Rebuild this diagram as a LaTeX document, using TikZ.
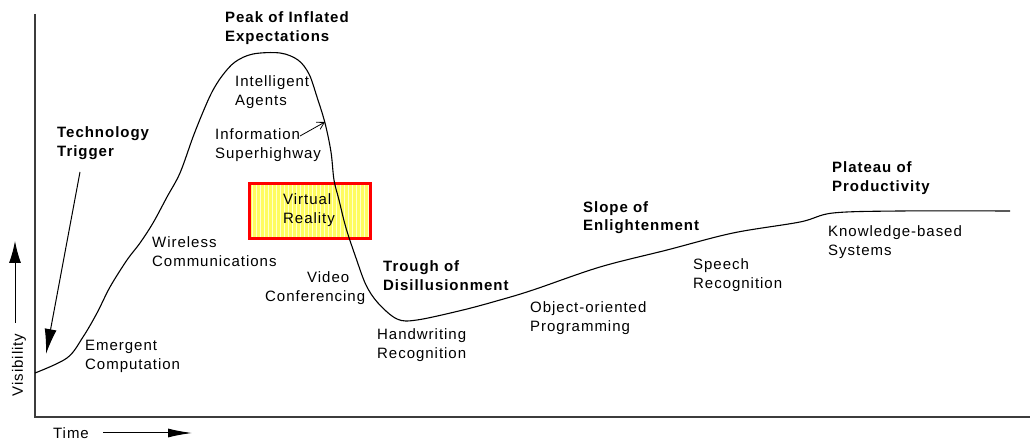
\documentclass[tikz,border=0pt]{standalone}
\usepackage{fontspec}
\setmainfont{Liberation Sans}[LetterSpace=6.5]
\usetikzlibrary{arrows.meta}
\definecolor{boxyellow}{RGB}{255,252,95}
\definecolor{gridyellow}{RGB}{255,255,205}
\definecolor{axisgray}{RGB}{60,60,60}
\tikzset{
  lbl/.style={font=\fontsize{15}{18.5}\selectfont, align=left, inner sep=0pt, anchor=base west, text=black},
  blbl/.style={lbl, font=\fontsize{15}{18.5}\selectfont\bfseries},
  axisline/.style={draw=axisgray, line width=2.2pt},
  hype/.style={draw=black, line width=1.1pt},
  bigarrow/.style={draw=black, line width=1pt, -{Latex[length=25pt,width=12pt]}},
}
\begin{document}
\begin{tikzpicture}[x=1pt,y=-1pt]
\useasboundingbox (0,0) rectangle (1031,443);
% axes
\coordinate (origin) at (35,417);
\coordinate (ytop) at (35,14);
\coordinate (xend) at (1030,417);
\draw[axisline] (ytop) -- (origin) -- (xend);
% highlighted box
\node (vrbox) [fill=boxyellow, minimum width=121pt, minimum height=55pt, inner sep=0pt] at (310,211) {};
\draw[gridyellow, line width=0.9pt, step=4] (vrbox.south west) grid (vrbox.north east);
\draw[red, line width=3pt] (vrbox.south west) rectangle (vrbox.north east);
% hype curve
\draw[hype] plot[smooth, tension=0.55] coordinates {
(35,373) (67,358) (83,337) (97,313) (110,287) (127,260) (140,243) (153,223) (167,197) (180,173) (193,137) (203,112) (212,92) (222,76) (235,62) (253,54) (280,53) (298,60) (309,74) (317,97) (325,123) (331,152) (334,180) (339,200) (346,228) (356,258) (366,285) (378,303) (397,319) (417,320) (463,310) (500,300) (533,290) (600,267) (667,250) (733,233) (800,222) (833,213) (900,211) (1010,211)};
% labels (two-line labels: base = last line)
\node[blbl] (trigger) at (57,156.5) {Technology\\Trigger};
\node[blbl] (peak) at (225,41.5) {Peak of Inflated\\Expectations};
\node[lbl] (agents) at (235,105.5) {Intelligent\\Agents};
\node[lbl] (info) at (215,158.5) {Information\\Superhighway};
\node[lbl] (vr) at (283,223.5) {Virtual\\Reality};
\node[lbl] (wireless) at (152,266.5) {Wireless\\Communications};
\node[lbl] (video) at (307,283) {Video};
\node[lbl] (conf) at (265,302) {Conferencing};
\node[lbl] (emergent) at (85,369.5) {Emergent\\Computation};
\node[blbl] (trough) at (383,290.5) {Trough of\\Disillusionment};
\node[lbl] (hand) at (377,358.5) {Handwriting\\Recognition};
\node[lbl] (oop) at (530,331.5) {Object-oriented\\Programming};
\node[blbl] (slope) at (583,231) {Slope of\\Enlightenment};
\node[lbl] (speech) at (693,288.5) {Speech\\Recognition};
\node[blbl] (plateau) at (832,191.5) {Plateau of\\Productivity};
\node[lbl] (kbs) at (828,255.5) {Knowledge-based\\Systems};
% arrows
\coordinate (trigtail) at (80,172);
\coordinate (trighead) at (46,354);
\draw[bigarrow] (trigtail) -- (trighead);
\coordinate (infotail) at (300,136);
\coordinate (infohead) at (325,122);
\draw[line width=0.8pt, -{Straight Barb[length=7pt,width=8pt]}] (infotail) -- (infohead);
% axis labels
\node[lbl, anchor=center, rotate=90] (vis) at (19,365) {Visibility};
\coordinate (vistail) at (15,323);
\coordinate (vishead) at (15,241);
\draw[bigarrow, -{Latex[length=22pt,width=12pt]}] (vistail) -- (vishead);
\node[lbl, anchor=center] (time) at (71,433) {Time};
\coordinate (timetail) at (103,433);
\coordinate (timehead) at (192,433);
\draw[bigarrow, -{Latex[length=24pt,width=9pt]}] (timetail) -- (timehead);
\end{tikzpicture}
\end{document}
